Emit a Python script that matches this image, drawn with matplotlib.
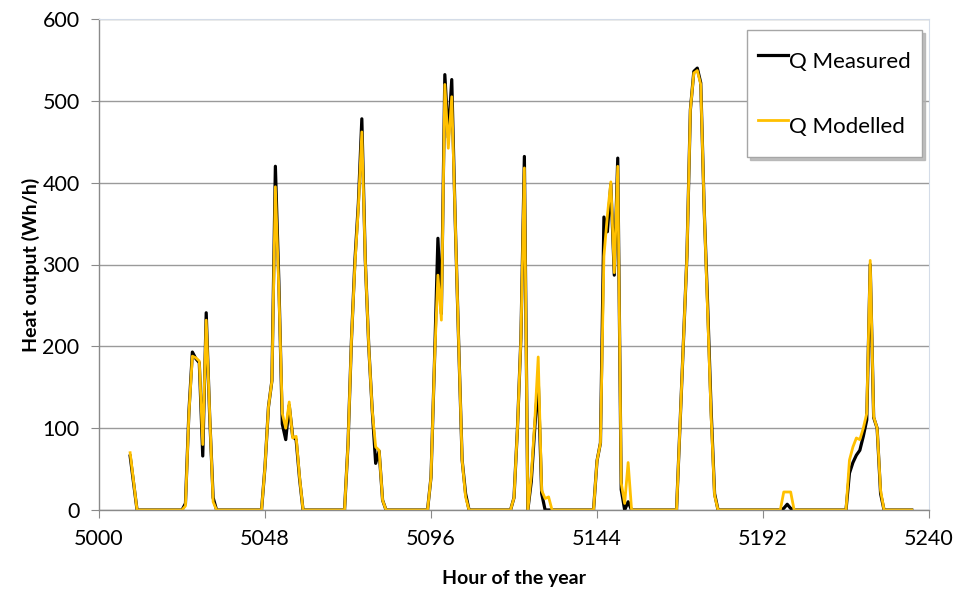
import numpy as np
import matplotlib
matplotlib.use("Agg")
import matplotlib.pyplot as plt

plt.rcParams['font.family'] = ['Lato', 'DejaVu Sans']

# hourly heat output, one block per sunny period (all other hours are zero)
first_hour = 5009
last_hour = 5235
block_start = [5009, 5024, 5047, 5071, 5095, 5119, 5143, 5167, 5197, 5216]
measured_blocks = [
    [66, 33, 0],
    [0, 8, 120, 193, 185, 180, 66, 241, 115, 15, 0],
    [0, 53, 126, 158, 420, 280, 105, 86, 128, 90, 86, 38, 0],
    [0, 80, 208, 305, 375, 478, 305, 200, 122, 57, 72, 12, 0],
    [0, 40, 180, 332, 240, 532, 455, 526, 354, 204, 61, 20, 0],
    [0, 15, 100, 210, 432, 0, 35, 100, 160, 20, 0, 0, 0],
    [0, 60, 82, 358, 340, 398, 287, 430, 25, 0, 10, 0],
    [0, 103, 204, 310, 489, 536, 540, 522, 367, 250, 122, 20, 0],
    [0, 2, 7, 2, 0],
    [0, 45, 58, 67, 73, 90, 110, 300, 113, 100, 20, 0],
]
modelled_blocks = [
    [70, 35, 0],
    [0, 5, 118, 188, 186, 182, 80, 232, 118, 10, 0],
    [0, 53, 126, 158, 395, 270, 118, 100, 132, 88, 90, 40, 0],
    [0, 80, 208, 300, 370, 462, 305, 200, 122, 77, 73, 12, 0],
    [0, 40, 180, 287, 232, 520, 442, 505, 354, 204, 61, 16, 0],
    [0, 15, 100, 210, 418, 0, 42, 108, 187, 24, 14, 16, 0],
    [0, 60, 82, 310, 360, 401, 290, 420, 33, 8, 58, 0],
    [0, 103, 204, 310, 489, 534, 537, 520, 367, 240, 115, 18, 0],
    [0, 22, 22, 22, 0],
    [0, 61, 77, 88, 86, 100, 118, 305, 114, 100, 24, 0],
]

hours = np.arange(first_hour, last_hour + 1)
q_measured = np.zeros(len(hours))
q_modelled = np.zeros(len(hours))
for start, meas, mod in zip(block_start, measured_blocks, modelled_blocks):
    i = start - first_hour
    q_measured[i:i + len(meas)] = meas
    q_modelled[i:i + len(mod)] = mod

x_ticks = [5000, 5048, 5096, 5144, 5192, 5240]
y_ticks = [0, 100, 200, 300, 400, 500, 600]

fig = plt.figure(figsize=(9.6, 5.9), dpi=100)
ax = fig.add_axes([99/960, 1 - 510/590, 830/960, 491/590])

ax.plot(hours, q_measured, color='black', lw=2.3, label='Q Measured', solid_joinstyle='round')
ax.plot(hours, q_modelled, color='#FFC000', lw=2.0, label='Q Modelled', solid_joinstyle='round')

ax.set_xlim(5000, 5240)
ax.set_ylim(0, 600)
ax.set_xticks(x_ticks)
ax.set_yticks(y_ticks)
ax.yaxis.grid(True, color='#9a9a9a', lw=1.0)
ax.set_axisbelow(True)

for side in ['left', 'bottom']:
    ax.spines[side].set_color('#8a8a8a')
    ax.spines[side].set_linewidth(1.0)
for side in ['top', 'right']:
    ax.spines[side].set_color('#d4dce8')
    ax.spines[side].set_linewidth(0.8)
ax.tick_params(axis='both', direction='out', length=6, color='#8a8a8a',
               labelsize=15.5, pad=8)

ax.set_xlabel('Hour of the year', fontsize=14, fontweight='bold', labelpad=15)
ax.set_ylabel('Heat output (Wh/h)', fontsize=14, fontweight='bold', labelpad=2)

leg = ax.legend(loc='upper right', bbox_to_anchor=(922/960, 1 - 30/590),
                bbox_transform=fig.transFigure, borderaxespad=0,
                fontsize=16, handlelength=1.35, handleheight=2.4,
                handletextpad=0.05, labelspacing=1.12, borderpad=0.5,
                fancybox=False, edgecolor='#a6a6a6', framealpha=1,
                shadow={'color': '#b0b0b0', 'alpha': 0.8})
leg.get_frame().set_linewidth(1.0)

fig.savefig('out.png', dpi=100)
